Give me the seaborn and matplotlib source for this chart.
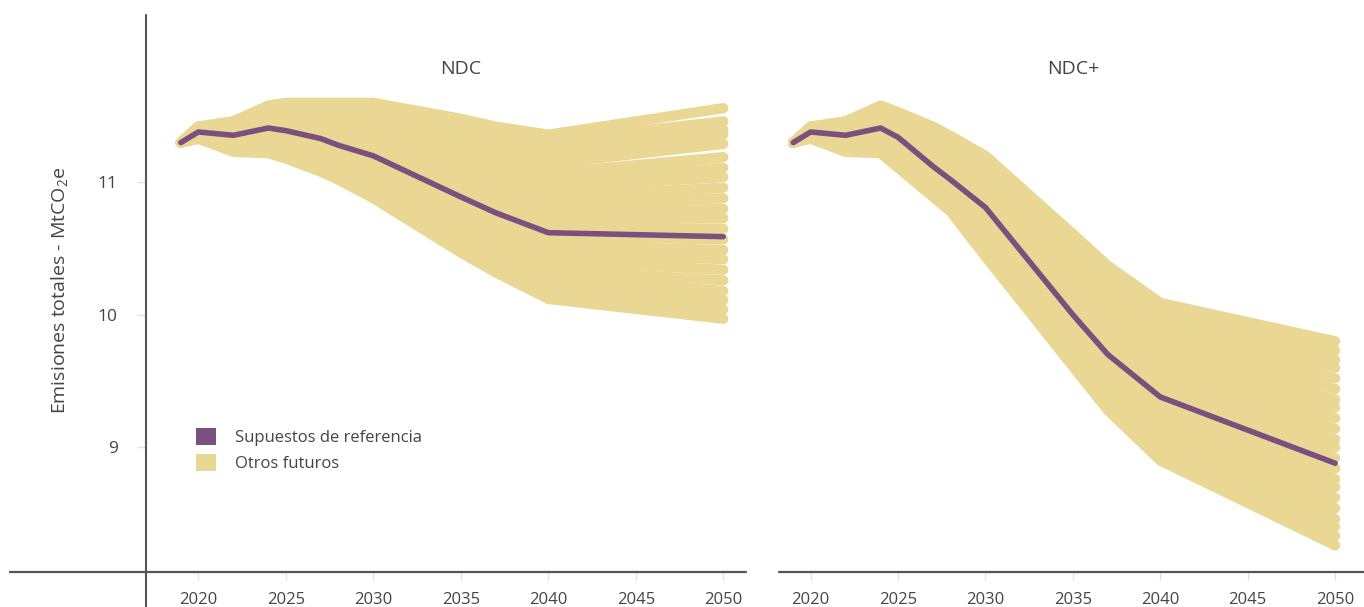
import pandas as pd
import seaborn as sns
import matplotlib.pyplot as plt
from matplotlib.lines import Line2D
from matplotlib.patches import Patch

# years where the trajectories have vertices
years = [2019, 2020, 2022, 2024, 2025, 2027, 2028, 2030, 2035, 2037, 2040, 2050]

# reference assumptions (purple line), MtCO2e
ndc_reference = [11.30, 11.38, 11.355, 11.41, 11.39, 11.33, 11.28, 11.20, 10.89, 10.77, 10.62, 10.59]
ndcplus_reference = [11.30, 11.38, 11.355, 11.41, 11.34, 11.12, 11.02, 10.81, 10.00, 9.70, 9.38, 8.88]

# other futures (yellow fan), one row per future
ndc_futures = [
    [11.30, 11.42, 11.46, 11.58, 11.60, 11.60, 11.60, 11.60, 11.48, 11.42, 11.36, 11.56],
    [11.30, 11.42, 11.46, 11.57, 11.59, 11.58, 11.58, 11.57, 11.44, 11.37, 11.31, 11.46],
    [11.30, 11.42, 11.45, 11.56, 11.57, 11.56, 11.56, 11.54, 11.40, 11.33, 11.25, 11.40],
    [11.30, 11.42, 11.43, 11.54, 11.56, 11.54, 11.53, 11.51, 11.35, 11.28, 11.20, 11.36],
    [11.30, 11.41, 11.42, 11.52, 11.53, 11.51, 11.50, 11.48, 11.30, 11.22, 11.14, 11.29],
    [11.30, 11.41, 11.41, 11.50, 11.51, 11.49, 11.47, 11.44, 11.25, 11.17, 11.07, 11.19],
    [11.30, 11.40, 11.40, 11.48, 11.49, 11.46, 11.44, 11.40, 11.20, 11.11, 11.01, 11.11],
    [11.30, 11.40, 11.39, 11.47, 11.47, 11.44, 11.42, 11.37, 11.15, 11.06, 10.96, 11.04],
    [11.30, 11.39, 11.37, 11.45, 11.45, 11.41, 11.38, 11.33, 11.10, 11.01, 10.89, 10.96],
    [11.30, 11.39, 11.36, 11.43, 11.42, 11.38, 11.35, 11.29, 11.05, 10.95, 10.83, 10.88],
    [11.30, 11.38, 11.35, 11.41, 11.40, 11.35, 11.32, 11.26, 11.00, 10.89, 10.77, 10.80],
    [11.30, 11.38, 11.34, 11.39, 11.38, 11.33, 11.30, 11.22, 10.95, 10.85, 10.71, 10.73],
    [11.30, 11.37, 11.33, 11.37, 11.36, 11.30, 11.27, 11.19, 10.90, 10.79, 10.65, 10.65],
    [11.30, 11.37, 11.31, 11.35, 11.33, 11.27, 11.24, 11.15, 10.85, 10.73, 10.59, 10.57],
    [11.30, 11.36, 11.30, 11.33, 11.31, 11.25, 11.20, 11.11, 10.80, 10.68, 10.52, 10.49],
    [11.30, 11.36, 11.29, 11.32, 11.29, 11.22, 11.18, 11.08, 10.75, 10.63, 10.47, 10.42],
    [11.30, 11.35, 11.28, 11.30, 11.27, 11.19, 11.15, 11.04, 10.70, 10.57, 10.41, 10.34],
    [11.30, 11.35, 11.27, 11.28, 11.25, 11.17, 11.12, 11.00, 10.65, 10.52, 10.34, 10.26],
    [11.30, 11.34, 11.26, 11.26, 11.22, 11.14, 11.09, 10.97, 10.60, 10.46, 10.28, 10.18],
    [11.30, 11.34, 11.25, 11.24, 11.21, 11.12, 11.06, 10.94, 10.55, 10.41, 10.23, 10.11],
    [11.30, 11.33, 11.24, 11.23, 11.19, 11.10, 11.04, 10.91, 10.51, 10.37, 10.17, 10.04],
    [11.30, 11.33, 11.23, 11.22, 11.18, 11.08, 11.02, 10.88, 10.47, 10.32, 10.12, 9.97],
]

ndcplus_futures = [
    [11.30, 11.42, 11.46, 11.58, 11.53, 11.42, 11.35, 11.20, 10.61, 10.37, 10.09, 9.80],
    [11.30, 11.42, 11.46, 11.57, 11.52, 11.40, 11.33, 11.17, 10.57, 10.32, 10.04, 9.73],
    [11.30, 11.42, 11.45, 11.56, 11.50, 11.38, 11.31, 11.14, 10.53, 10.28, 9.99, 9.66],
    [11.30, 11.42, 11.43, 11.54, 11.49, 11.36, 11.29, 11.11, 10.48, 10.23, 9.94, 9.60],
    [11.30, 11.41, 11.42, 11.52, 11.46, 11.33, 11.25, 11.07, 10.43, 10.18, 9.88, 9.52],
    [11.30, 11.41, 11.41, 11.50, 11.44, 11.30, 11.22, 11.03, 10.38, 10.12, 9.82, 9.44],
    [11.30, 11.40, 11.40, 11.48, 11.42, 11.28, 11.19, 10.99, 10.33, 10.06, 9.75, 9.36],
    [11.30, 11.40, 11.39, 11.47, 11.40, 11.25, 11.17, 10.96, 10.29, 10.02, 9.70, 9.30],
    [11.30, 11.39, 11.37, 11.45, 11.38, 11.22, 11.14, 10.92, 10.24, 9.96, 9.64, 9.22],
    [11.30, 11.39, 11.36, 11.43, 11.35, 11.20, 11.11, 10.88, 10.18, 9.90, 9.58, 9.14],
    [11.30, 11.38, 11.35, 11.41, 11.33, 11.17, 11.08, 10.84, 10.13, 9.85, 9.52, 9.06],
    [11.30, 11.38, 11.34, 11.39, 11.31, 11.14, 11.05, 10.80, 10.09, 9.80, 9.47, 9.00],
    [11.30, 11.37, 11.33, 11.37, 11.29, 11.12, 11.02, 10.76, 10.04, 9.75, 9.41, 8.92],
    [11.30, 11.37, 11.31, 11.35, 11.27, 11.09, 10.99, 10.72, 9.99, 9.69, 9.35, 8.84],
    [11.30, 11.36, 11.30, 11.33, 11.24, 11.06, 10.96, 10.68, 9.93, 9.63, 9.29, 8.76],
    [11.30, 11.36, 11.29, 11.32, 11.22, 11.04, 10.94, 10.65, 9.89, 9.59, 9.24, 8.70],
    [11.30, 11.35, 11.28, 11.30, 11.20, 11.01, 10.91, 10.61, 9.84, 9.53, 9.18, 8.62],
    [11.30, 11.35, 11.27, 11.28, 11.18, 10.98, 10.88, 10.57, 9.79, 9.48, 9.11, 8.54],
    [11.30, 11.34, 11.26, 11.26, 11.15, 10.95, 10.85, 10.53, 9.74, 9.42, 9.05, 8.46],
    [11.30, 11.34, 11.25, 11.24, 11.14, 10.93, 10.82, 10.50, 9.69, 9.37, 9.00, 8.40],
    [11.30, 11.33, 11.24, 11.23, 11.12, 10.91, 10.80, 10.47, 9.65, 9.33, 8.95, 8.33],
    [11.30, 11.33, 11.23, 11.22, 11.11, 10.89, 10.78, 10.44, 9.61, 9.28, 8.90, 8.26],
]

panel_titles = ["NDC", "NDC+"]
legend_labels = ["Supuestos de referencia", "Otros futuros"]
xticks = [2020, 2025, 2030, 2035, 2040, 2045, 2050]
yticks = [9, 10, 11]

purple = "#7b4f7e"
yellow = "#e9d793"
text_col = "#444444"
axis_col = "#555555"

sns.set_theme(style="white")
plt.rcParams["font.family"] = ["Open Sans", "DejaVu Sans"]
plt.rcParams["mathtext.fontset"] = "custom"
plt.rcParams["mathtext.rm"] = "Open Sans"
plt.rcParams["mathtext.default"] = "regular"

# long tables for seaborn
def to_long(futures):
    rows = []
    for i, vals in enumerate(futures):
        for yr, v in zip(years, vals):
            rows.append({"future": i, "year": yr, "value": v})
    return pd.DataFrame(rows)

fut_df = [to_long(ndc_futures), to_long(ndcplus_futures)]
ref_df = [pd.DataFrame({"year": years, "value": ndc_reference}),
          pd.DataFrame({"year": years, "value": ndcplus_reference})]

W, H = 1364, 607
fig = plt.figure(figsize=(W / 100, H / 100), dpi=100)

# axes placed in pixel terms
ax_left = fig.add_axes([146 / W, 35 / H, (745.5 - 146) / W, (572 - 15) / H])
ax_right = fig.add_axes([778.5 / W, 35 / H, (W - 778.5) / W, (572 - 15) / H])
axes = [ax_left, ax_right]
xlims = [(2017.01, 2051.27), (2018.16, 2051.65)]

for k, ax in enumerate(axes):
    sns.lineplot(data=fut_df[k], x="year", y="value", units="future", estimator=None,
                 color=yellow, lw=7.4, legend=False, ax=ax,
                 solid_capstyle="round", solid_joinstyle="round")
    sns.lineplot(data=ref_df[k], x="year", y="value", color=purple, lw=4.0,
                 legend=False, ax=ax, solid_capstyle="round", solid_joinstyle="round")
    ax.set_xlim(*xlims[k])
    ax.set_ylim(8.059, 12.263)
    ax.set_xlabel("")
    ax.set_ylabel("")
    for s in ax.spines.values():
        s.set_visible(False)
    ax.set_xticks(xticks)
    ax.tick_params(axis="x", bottom=True, length=6, width=1, color="#e2e2e2",
                   pad=8.5, labelsize=12, labelcolor=text_col)
    ax.text(2035, 11.855, panel_titles[k], ha="center", va="center",
            fontsize=14, color=text_col)

ax_left.set_yticks(yticks)
ax_left.tick_params(axis="y", left=True, length=6.5, width=1, color="#e2e2e2",
                    pad=14, labelsize=12.5, labelcolor=text_col)
ax_right.set_yticks(yticks)
ax_right.tick_params(axis="y", left=False, labelleft=False)

# axis lines drawn across the figure like the original
fig.add_artist(Line2D([146 / W, 146 / W], [0, 1 - 15 / H], transform=fig.transFigure,
                      color=axis_col, lw=1.5))
fig.add_artist(Line2D([10 / W, 745.5 / W], [35 / H, 35 / H], transform=fig.transFigure,
                      color=axis_col, lw=1.6))
fig.add_artist(Line2D([778.5 / W, 1], [35 / H, 35 / H], transform=fig.transFigure,
                      color=axis_col, lw=1.6))

fig.text(60 / W, 1 - 290 / H, "Emisiones totales - MtCO$_2$e", rotation=90,
         ha="center", va="center", fontsize=14, color=text_col)

handles = [Patch(facecolor=purple, edgecolor="none", label=legend_labels[0]),
           Patch(facecolor=yellow, edgecolor="none", label=legend_labels[1])]
ax_left.legend(handles=handles, loc="upper left",
               bbox_to_anchor=(195.7 / W, 1 - 428 / H), bbox_transform=fig.transFigure,
               frameon=False, borderpad=0, borderaxespad=0, fontsize=12,
               handlelength=1.2, handleheight=1.2, handletextpad=1.15,
               labelspacing=0.45, labelcolor=text_col)

fig.savefig("out.png", dpi=100)
